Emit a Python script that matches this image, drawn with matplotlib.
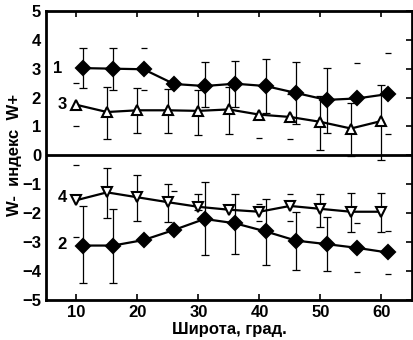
import matplotlib

matplotlib.use("Agg")
import matplotlib.pyplot as plt
import numpy as np

plt.rcParams["font.family"] = ["Liberation Sans Narrow", "Liberation Sans", "DejaVu Sans"]
plt.rcParams["font.weight"] = "bold"

# широта: треугольники на 10..60, ромбы сдвинуты на +1 градус
lat_tri = [10, 15, 20, 25, 30, 35, 40, 45, 50, 55, 60]
lat_dia = [11, 16, 21, 26, 31, 36, 41, 46, 51, 56, 61]

# 1 - W+ (ромбы), 3 - W+ (треугольники)
w1 = [3.02, 3.0, 2.98, 2.47, 2.4, 2.48, 2.4, 2.16, 1.92, 1.97, 2.12]
w1_lo = [2.32, 2.25, np.nan, np.nan, 1.66, 1.66, 1.47, 1.1, 0.77, np.nan, np.nan]
w1_hi = [3.73, 3.72, np.nan, np.nan, 3.24, 3.26, 3.32, 3.24, 3.04, np.nan, np.nan]

w3 = [1.75, 1.5, 1.56, 1.56, 1.54, 1.59, 1.41, 1.33, 1.16, 0.93, 1.19]
w3_lo = [np.nan, 0.58, 0.77, 0.76, 0.69, 0.74, np.nan, np.nan, 0.2, -0.02, -0.15]
w3_hi = [np.nan, 2.37, 2.33, 2.3, 2.26, 2.35, np.nan, np.nan, 2.05, 1.8, 2.42]

# 2 - W- (ромбы), 4 - W- (перевернутые треугольники)
w2 = [-3.12, -3.12, -2.93, -2.58, -2.2, -2.35, -2.63, -2.95, -3.07, -3.2, -3.36]
w2_lo = [-4.43, -4.4, np.nan, np.nan, -3.44, -3.41, -3.78, -3.97, -3.99, np.nan, np.nan]
w2_hi = [-1.74, -1.85, np.nan, np.nan, -0.93, -1.33, -1.5, -1.97, -2.14, np.nan, np.nan]

w4 = [-1.55, -1.28, -1.45, -1.62, -1.78, -1.88, -1.95, -1.75, -1.85, -1.95, -1.95]
w4_lo = [np.nan, -2.15, -2.26, -2.31, -1.9, np.nan, np.nan, np.nan, -2.47, -2.64, -2.64]
w4_hi = [np.nan, -0.43, -0.67, -0.98, -1.33, np.nan, np.nan, np.nan, -1.33, -1.3, -1.3]

# отдельные черточки (концы усов без линий)
stray_x = [10, 10, 21, 21, 56, 61, 40, 45, 45, 61,
           10, 10, 26, 40, 40, 45, 45, 56, 61, 56, 61]
stray_y = [2.5, 1.0, 3.7, 2.25, 3.18, 3.53, 0.61, 0.58, 2.12, 0.73,
           -0.35, -2.81, -1.22, -1.68, -2.26, -1.33, -2.26, -2.35, -2.63, -4.02, -4.1]

# подписи кривых
curve_names = ["1", "3", "4", "2"]
name_x = [6.9, 7.7, 7.65, 7.65]
name_y = [3.0, 1.75, -1.45, -3.1]


def draw_series(ax, x, y, lo, hi, marker, face, ms):
    x = np.asarray(x, dtype=float)
    y = np.asarray(y, dtype=float)
    lo = np.asarray(lo, dtype=float)
    hi = np.asarray(hi, dtype=float)
    ok = ~np.isnan(lo)
    ax.errorbar(x[ok], y[ok], yerr=[y[ok] - lo[ok], hi[ok] - y[ok]], fmt="none",
                ecolor="black", elinewidth=0.9, capsize=3, capthick=0.9, zorder=2)
    ax.plot(x, y, color="black", lw=1.6, marker=marker, ms=ms, mfc=face,
            mec="black", mew=1.5, zorder=3)


fig = plt.figure(figsize=(4.14, 3.40), dpi=100)
ax = fig.add_axes([0.111, 0.118, 0.884, 0.850])

draw_series(ax, lat_dia, w1, w1_lo, w1_hi, "D", "black", 7.5)
draw_series(ax, lat_tri, w3, w3_lo, w3_hi, "^", "white", 7.5)
draw_series(ax, lat_dia, w2, w2_lo, w2_hi, "D", "black", 7.5)
draw_series(ax, lat_tri, w4, w4_lo, w4_hi, "v", "white", 7.5)

ax.plot(stray_x, stray_y, ls="none", marker="_", ms=5, mew=0.9, color="black")

for name, tx, ty in zip(curve_names, name_x, name_y):
    ax.text(tx, ty, name, fontsize=12, fontweight="bold", ha="center", va="center")

ax.axhline(0, color="black", lw=2)

ax.set_xlim(5, 65)
ax.set_ylim(-5, 5)
ax.set_xticks([10, 20, 30, 40, 50, 60])
ax.set_yticks(range(-5, 6))
ax.tick_params(axis="both", direction="in", labelsize=12, width=1.2)
ax.tick_params(axis="x", top=True, length=4, pad=4)
ax.tick_params(axis="y", left=False, right=True, length=4)
for lab in ax.get_xticklabels() + ax.get_yticklabels():
    lab.set_fontweight("bold")
for sp in ax.spines.values():
    sp.set_linewidth(2)

ax.set_xlabel("Широта, град.", fontsize=12, fontweight="bold", labelpad=1)
ax.set_ylabel("W-  индекс  W+", fontsize=12, fontweight="bold", labelpad=0)

fig.savefig("out.png", dpi=100)
